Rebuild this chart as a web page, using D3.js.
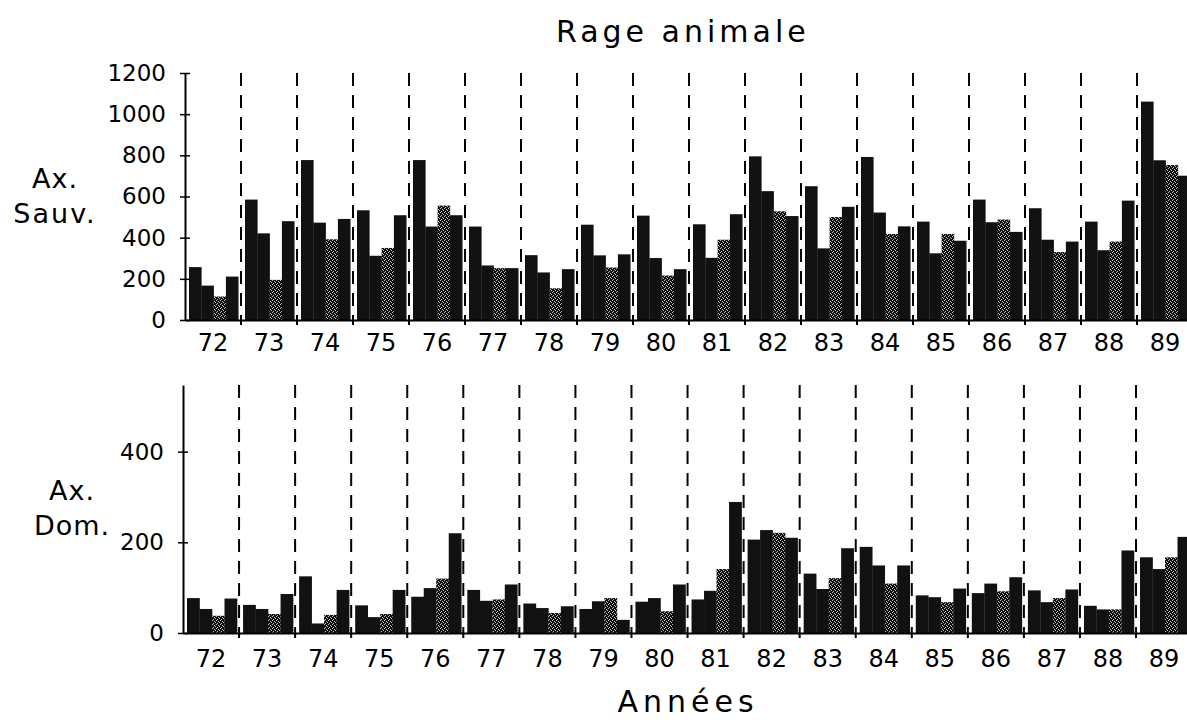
<!DOCTYPE html>
<html>
<head>
<meta charset="utf-8">
<script src="https://cdn.jsdelivr.net/npm/d3@7"></script>
<style>
  body { margin: 0; background: #fff; }
  svg { display: block; }
  text { font-family: "DejaVu Sans", sans-serif; fill: #000; }
</style>
</head>
<body>
<div id="chart"></div>
<script>
// years 1972-1989, 4 quarters per year (3rd quarter drawn stippled)
var years = ["72","73","74","75","76","77","78","79","80","81","82","83","84","85","86","87","88","89"];
var quarters = [1, 2, 3, 4];

// animaux sauvages, quarterly counts (Q1..Q4 per year)
var sauvages = [
  257, 167, 114, 211,
  585, 421, 195, 480,
  777, 473, 392, 491,
  533, 312, 350, 509,
  777, 454, 556, 509,
  454, 265, 252, 252,
  315, 231, 154, 247,
  463, 314, 255, 319,
  507, 301, 216, 247,
  465, 302, 390, 514,
  795, 626, 528, 505,
  650, 348, 500, 550,
  792, 522, 418, 455,
  478, 324, 418, 385,
  585, 475, 488, 428,
  543, 390, 330, 381,
  478, 339, 381, 580,
  1061, 776, 753, 701
];

// animaux domestiques, quarterly counts
var domestiques = [
  77, 53, 38, 76,
  62, 53, 42, 86,
  125, 21, 40, 95,
  61, 35, 42, 95,
  80, 99, 120, 220,
  95, 71, 74, 107,
  65, 55, 44, 59,
  53, 70, 77, 29,
  69, 77, 48, 107,
  74, 93, 141, 289,
  206, 227, 221, 210,
  131, 97, 121, 187,
  190, 149, 109, 149,
  83, 79, 68, 98,
  88, 109, 92, 123,
  94, 68, 77, 96,
  60, 52, 52, 182,
  167, 141, 167, 212
];

var ticksSauv = [0, 200, 400, 600, 800, 1000, 1200];
var ticksDom = [0, 200, 400];

var width = 1187, height = 720;
var svg = d3.select("#chart").append("svg").attr("width", width).attr("height", height);

// stipple for 3rd quarter bars
var pat = svg.append("defs").append("pattern")
  .attr("id", "stipple").attr("width", 4).attr("height", 4)
  .attr("patternUnits", "userSpaceOnUse");
pat.append("rect").attr("width", 4).attr("height", 4).attr("fill", "#111");
[[0,0],[2,1],[1,3],[3,2]].forEach(function(p){
  pat.append("rect").attr("x", p[0]).attr("y", p[1]).attr("width", 1).attr("height", 1).attr("fill", "#bbb");
});

svg.append("text").attr("x", 556).attr("y", 42)
  .attr("font-size", 30).attr("letter-spacing", 4)
  .text("Rage animale");

function panel(values, opts) {
  var g = svg.append("g");
  var x = d3.scaleBand().domain(years).range([opts.x0, opts.x0 + 18 * opts.step]).padding(0);
  var q = d3.scaleBand().domain(quarters).range([4, 4 + 4 * opts.barW]).padding(0);
  var y = d3.scaleLinear().domain([0, opts.ymax]).range([opts.y0, opts.ytop]);

  var data = [];
  years.forEach(function(yr, i){
    quarters.forEach(function(qq, j){ data.push({year: yr, q: qq, v: values[i * 4 + j]}); });
  });

  g.selectAll("rect.bar").data(data).enter().append("rect")
    .attr("class", "bar")
    .attr("x", function(d){ return x(d.year) + q(d.q); })
    .attr("width", q.bandwidth() + 0.3)
    .attr("y", function(d){ return y(d.v); })
    .attr("height", function(d){ return y(0) - y(d.v); })
    .attr("fill", function(d){ return d.q === 3 ? "url(#stipple)" : "#111"; });

  // dashed year separators
  var bounds = years.slice(1);
  g.selectAll("line.sep").data(bounds).enter().append("line")
    .attr("x1", function(d){ return x(d); }).attr("x2", function(d){ return x(d); })
    .attr("y1", opts.ytop).attr("y2", opts.y0 + 5)
    .attr("stroke", "#000").attr("stroke-width", 2)
    .attr("stroke-dasharray", "13,9");

  // x axis line + year labels
  var xa = g.append("g").attr("transform", "translate(0," + opts.y0 + ")")
    .call(d3.axisBottom(x).tickSize(0).tickPadding(opts.labPad));
  xa.select(".domain").attr("stroke", "#000").attr("stroke-width", 2);
  xa.selectAll("text").attr("font-size", 24).attr("font-family", "DejaVu Sans").attr("fill", "#000");

  // y axis
  var ya = g.append("g").attr("transform", "translate(" + opts.x0 + ",0)")
    .call(d3.axisLeft(y).tickValues(opts.ticks).tickFormat(d3.format("d"))
      .tickSize(5).tickPadding(14).tickSizeOuter(0));
  ya.select(".domain").attr("stroke", "#000").attr("stroke-width", 2);
  ya.selectAll(".tick line").attr("x2", 5).attr("x1", -5).attr("stroke", "#000").attr("stroke-width", 1.5);
  ya.selectAll("text").attr("font-size", 23).attr("font-family", "DejaVu Sans").attr("fill", "#000");
  return g;
}

panel(sauvages, {x0: 185, step: 56, barW: 12.3, y0: 320, ytop: 73, ymax: 1200, ticks: ticksSauv, labPad: 14});
panel(domestiques, {x0: 183, step: 56.06, barW: 12.5, y0: 633, ytop: 385, ymax: 547, ticks: ticksDom, labPad: 17});

svg.append("text").attr("x", 55).attr("y", 188).attr("text-anchor", "middle")
  .attr("font-size", 27).attr("letter-spacing", 1).text("Ax.");
svg.append("text").attr("x", 55).attr("y", 223).attr("text-anchor", "middle")
  .attr("font-size", 27).attr("letter-spacing", 2).text("Sauv.");
svg.append("text").attr("x", 72).attr("y", 500).attr("text-anchor", "middle")
  .attr("font-size", 27).attr("letter-spacing", 1).text("Ax.");
svg.append("text").attr("x", 72).attr("y", 535).attr("text-anchor", "middle")
  .attr("font-size", 27).attr("letter-spacing", 1).text("Dom.");

svg.append("text").attr("x", 688).attr("y", 712).attr("text-anchor", "middle")
  .attr("font-size", 30).attr("letter-spacing", 5).text("Années");
</script>
</body>
</html>
